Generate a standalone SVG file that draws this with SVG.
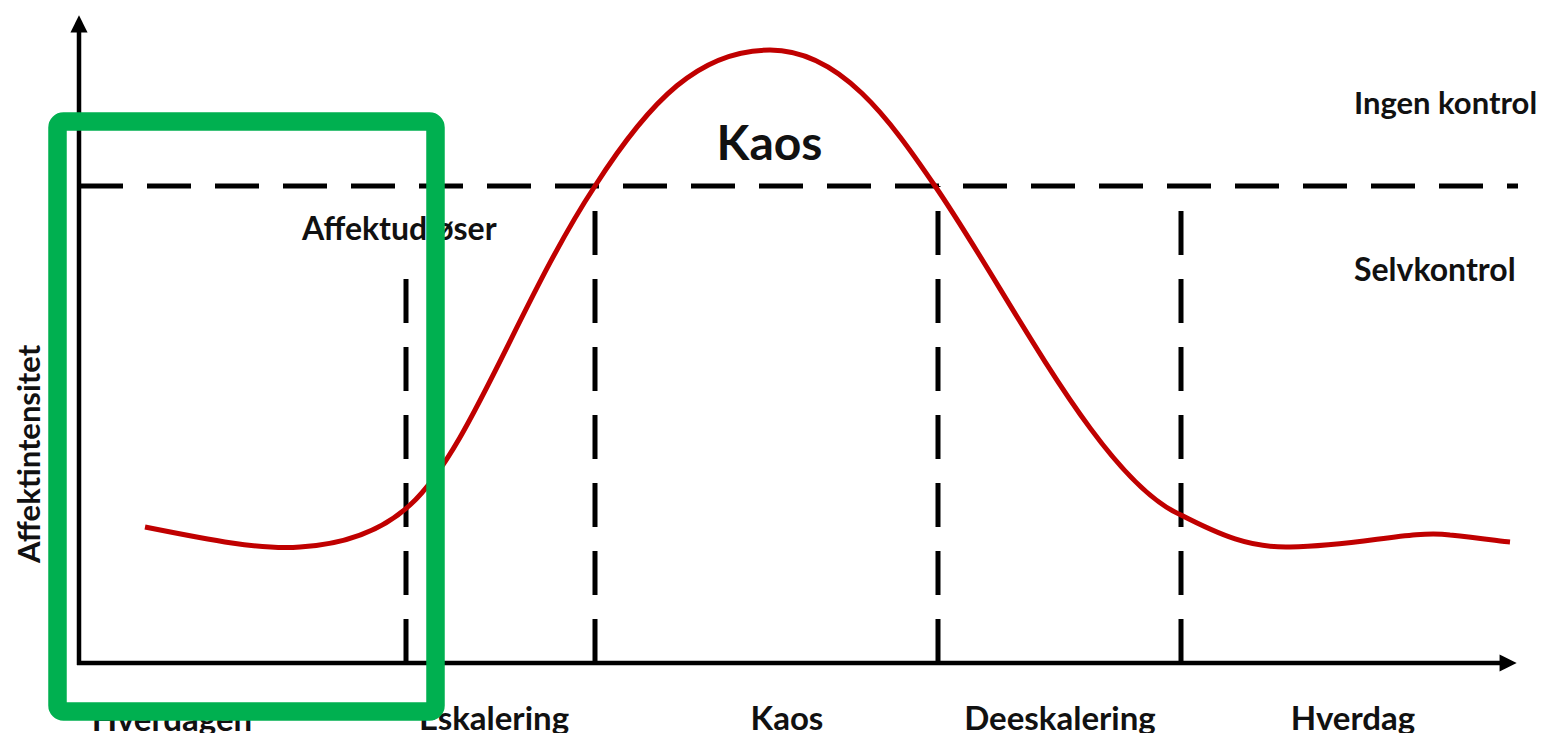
<svg xmlns="http://www.w3.org/2000/svg" width="1553" height="733" viewBox="0 0 1553 733">
<style>
.axis{stroke:#000;stroke-width:4.5;fill:none}
.dash{stroke:#000;stroke-width:5;fill:none;stroke-dasharray:44 24}
.curve{stroke:#C00000;stroke-width:5;fill:none}
.lbl{font-family:Lato,"Open Sans","Liberation Sans",sans-serif;font-weight:bold;fill:#111}
.hl{stroke:#00B050;stroke-width:18.5;fill:none}
</style>
<defs>
<marker id="arr" viewBox="0 0 10 10" refX="2" refY="5" markerWidth="4" markerHeight="3.8" orient="auto" markerUnits="strokeWidth">
<path d="M0,0 L10,5 L0,10 z" fill="#000"/>
</marker>
</defs>
<g id="connectors">
<line class="axis" x1="79" y1="665" x2="79" y2="29" marker-end="url(#arr)"/>
<line class="axis" x1="77" y1="663" x2="1503" y2="663" marker-end="url(#arr)"/>
<line class="dash" x1="79" y1="186" x2="1518" y2="186"/>
<line class="dash" x1="406" y1="663" x2="406" y2="268"/>
<line class="dash" x1="595" y1="663" x2="595" y2="186"/>
<line class="dash" x1="938" y1="663" x2="938" y2="186"/>
<line class="dash" x1="1181" y1="663" x2="1181" y2="186"/>
</g>
<g id="curve">
<path class="curve" d="M145,527 C210,540 260,550 300,547 C350,544 385,528 410,505 C470,450 520,300 595,186 C650,100 700,50 770,50 C840,50 890,120 935,186 C1010,295 1100,480 1181,515 C1220,535 1250,548 1290,547 C1360,546 1410,530 1450,535 C1480,538 1500,541 1510,542"/>
</g>
<g id="labels">
<text class="lbl" x="769.5" y="160" font-size="48" text-anchor="middle">Kaos</text>
<text class="lbl" x="1354" y="114" font-size="31">Ingen kontrol</text>
<text class="lbl" x="1354" y="281" font-size="32">Selvkontrol</text>
<text class="lbl" x="302" y="240" font-size="32">Affektudløser</text>
<text class="lbl" x="40" y="563" font-size="31" transform="rotate(-90 40 563)">Affektintensitet</text>
<text class="lbl" x="172" y="731" font-size="33" text-anchor="middle">Hverdagen</text>
<text class="lbl" x="494" y="730" font-size="33" text-anchor="middle">Eskalering</text>
<text class="lbl" x="787" y="730" font-size="33" text-anchor="middle">Kaos</text>
<text class="lbl" x="1060" y="730" font-size="33" text-anchor="middle">Deeskalering</text>
<text class="lbl" x="1353" y="730" font-size="33" text-anchor="middle">Hverdag</text>
</g>
<g id="highlight">
<rect class="hl" x="57.5" y="121.5" width="378" height="590" rx="6"/>
</g>
</svg>
